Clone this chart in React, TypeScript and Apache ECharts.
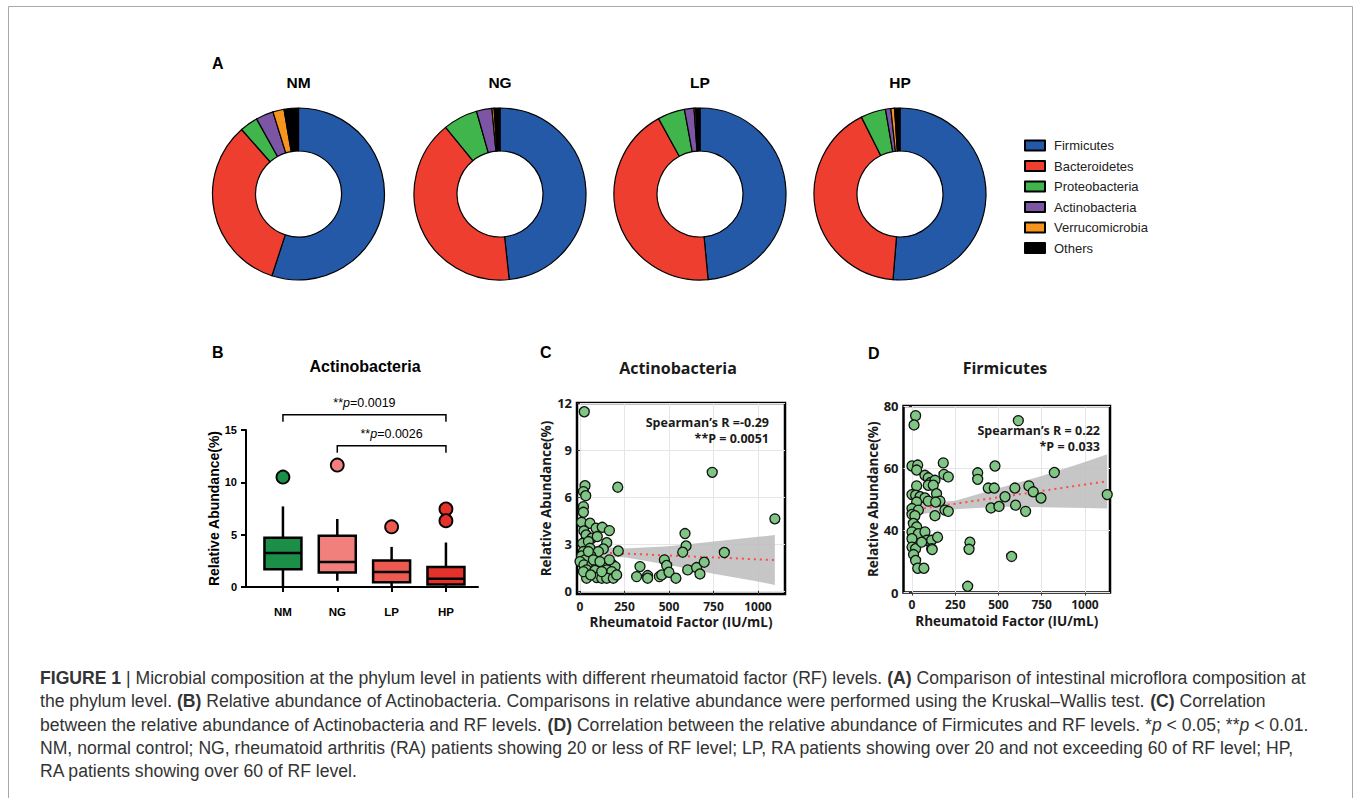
import React, { useEffect, useRef } from "react";
import * as echarts from "echarts";

const ARIAL = "'Liberation Sans', Arial, sans-serif";
const OPEN = "'Open Sans', 'Noto Sans', sans-serif";

// ---------- Panel A : phylum composition ----------
const phyla = ["Firmicutes", "Bacteroidetes", "Proteobacteria", "Actinobacteria", "Verrucomicrobia", "Others"];
const phylaColors = ["#2459a8", "#ee3e2f", "#3fb54b", "#7d55a5", "#f7941e", "#000000"];
const pieGroups = ["NM", "NG", "LP", "HP"];
const pieNM = [55.0, 33.5, 3.4, 3.3, 2.1, 2.7];
const pieNG = [48.3, 40.8, 6.5, 2.9, 0.4, 1.1];
const pieLP = [48.5, 43.5, 5.1, 1.8, 0.3, 0.8];
const pieHP = [51.3, 41.3, 4.7, 1.0, 0.7, 1.0];
const pieValues = [pieNM, pieNG, pieLP, pieHP];

// ---------- Panel B : Actinobacteria box plot ----------
const boxGroups = ["NM", "NG", "LP", "HP"];
const boxMin = [0, 0.6, 0, 0];
const boxQ1 = [1.7, 1.38, 0.45, 0.23];
const boxMedian = [3.26, 2.4, 1.44, 0.8];
const boxQ3 = [4.7, 4.9, 2.53, 1.92];
const boxMax = [7.7, 6.5, 3.83, 4.25];
const boxColors = ["#1b8f48", "#f1807d", "#ef5a50", "#e6312a"];
const outlierGroup = [1, 2, 3, 4, 4];
const outlierValue = [10.5, 11.65, 5.75, 7.45, 6.33];
const bracketFrom = [1, 2];
const bracketTo = [4, 4];
const bracketLevel = [16.45, 13.5];
const bracketP = ["0.0019", "0.0026"];

// ---------- Panel C : Actinobacteria vs RF ----------
const actinoRF = [
  24, 28, 19, 32, 19, 19, 212,
  9, 56, 90, 125, 165, 22, 34, 66, 97, 150, 15, 47, 56, 131, 215, 19, 103, 9, 60, 28, 0, 22, 66, 94, 131, 178, 197,
  37, 84, 150, 178, 37, 94, 122, 150, 187, 47, 75, 112, 165, 19, 60, 206, 122,
  337, 318, 380, 380, 446, 459, 474, 487, 500, 539, 590, 596, 577, 605, 655, 674, 698, 743, 811, 1095,
];
const actinoAbund = [
  11.44, 6.72, 6.34, 6.08, 5.38, 5.02, 6.62,
  4.38, 4.32, 4.0, 4.06, 3.85, 3.83, 3.57, 3.36, 3.47, 3.08, 3.04, 3.15, 2.72, 2.68, 2.55, 2.51, 2.51, 2.23, 2.25, 1.98, 1.87, 1.66, 1.66, 1.55, 1.62, 1.72, 1.55,
  1.34, 1.3, 1.34, 1.23, 0.81, 0.85, 0.81, 0.81, 0.81, 2.51, 1.98, 1.87, 1.98, 1.23, 1.02, 1.02, 1.23,
  1.55, 0.91, 0.98, 0.81, 0.91, 1.02, 1.98, 1.62, 1.19, 0.81, 3.66, 2.87, 2.47, 1.34, 1.49, 1.08, 1.83, 7.57, 2.45, 4.6,
];
const actinoBandX = [0, 250, 500, 750, 1000, 1095];
const actinoBandLow = [2.15, 2.15, 1.65, 1.1, 0.6, 0.38];
const actinoBandHigh = [2.9, 2.7, 2.85, 3.15, 3.45, 3.57];
const actinoFitX = [0, 1095];
const actinoFitY = [2.5, 1.97];
const cXTicks = [0, 250, 500, 750, 1000];
const cYTicks = [0, 3, 6, 9, 12];

// ---------- Panel D : Firmicutes vs RF ----------
const firmiRF = [
  21, 12, 615, 0, 33, 27, 181, 185, 210, 75, 94, 108, 133, 94, 123, 27,
  380, 380, 480, 441, 476, 595, 676, 701, 746, 823, 1129, 538, 599, 457, 503, 657,
  0, 21, 47, 75, 94, 142, 162, 137, 27, 0, 37, 0, 17, 8, 27, 0, 37, 0, 75, 85, 114, 148, 0, 21, 56, 114, 117, 9, 21, 33, 69, 133, 191, 210,
  322, 576, 335, 330,
];
const firmiAbund = [
  76.9, 73.9, 75.3, 60.7, 61.0, 59.4, 61.7, 58.0, 57.2, 57.7, 56.9, 55.4, 56.1, 54.5, 54.5, 54.3,
  58.5, 56.4, 60.7, 53.6, 53.6, 53.6, 54.3, 52.4, 50.4, 58.6, 51.5, 50.8, 48.1, 47.2, 47.7, 46.1,
  51.5, 51.3, 50.8, 50.4, 49.4, 51.8, 49.4, 49.1, 49.1, 47.0, 46.5, 45.1, 44.7, 42.2, 41.1, 39.5, 38.9, 37.3, 39.5, 36.8, 36.8, 37.8, 34.6, 34.1, 36.2, 34.1, 33.8, 32.2, 30.3, 27.8, 27.8, 44.7, 46.5, 46.1,
  22.0, 31.6, 36.2, 33.9,
];
const firmiBandX = [0, 250, 500, 750, 1000, 1129];
const firmiBandLow = [44.8, 46.8, 47.6, 47.4, 47.2, 47.0];
const firmiBandHigh = [48.3, 49.5, 53.5, 57.5, 62, 64.5];
const firmiFitX = [0, 1129];
const firmiFitY = [46.5, 55.8];
const dXTicks = [0, 250, 500, 750, 1000];
const dYTicks = [20, 40, 60, 80];
const dYLabels: Record<number, string> = { 20: "0", 40: "40", 60: "60", 80: "80" };

// ---------- Caption ----------
const captionLines = [
  "{b|FIGURE 1} | Microbial composition at the phylum level in patients with different rheumatoid factor (RF) levels. {b|(A)} Comparison of intestinal microflora composition at",
  "the phylum level. {b|(B)} Relative abundance of Actinobacteria. Comparisons in relative abundance were performed using the Kruskal\u2013Wallis test. {b|(C)} Correlation",
  "between the relative abundance of Actinobacteria and RF levels. {b|(D)} Correlation between the relative abundance of Firmicutes and RF levels. *{i|p} < 0.05; **{i|p} < 0.01.",
  "NM, normal control; NG, rheumatoid arthritis (RA) patients showing 20 or less of RF level; LP, RA patients showing over 20 and not exceeding 60 of RF level; HP,",
  "RA patients showing over 60 of RF level.",
];

const pieCenters = [298.5, 500, 700, 900];
const CAP = 17.6;

function bandRenderer(xs: number[], lo: number[], hi: number[]) {
  return (params: any, api: any) => {
    if (params.dataIndex !== 0) return null;
    const pts: number[][] = [];
    for (let i = 0; i < xs.length; i++) pts.push(api.coord([xs[i], hi[i]]));
    for (let i = xs.length - 1; i >= 0; i--) pts.push(api.coord([xs[i], lo[i]]));
    return { type: "polygon", shape: { points: pts }, style: { fill: "#bcbcbc", opacity: 0.85 } };
  };
}

export default function App() {
  const ref = useRef<HTMLDivElement>(null);
  useEffect(() => {
    if (!ref.current) return;
    const chart = echarts.init(ref.current, undefined, { renderer: "svg" });

    const pieSeries = pieGroups.map((g, k) => ({
      type: "pie",
      name: g,
      radius: [43, 86],
      center: [pieCenters[k], 194],
      startAngle: 90,
      clockwise: true,
      silent: true,
      avoidLabelOverlap: false,
      label: { show: false },
      labelLine: { show: false },
      emphasis: { disabled: true },
      itemStyle: { borderColor: "#000", borderWidth: 1.2 },
      data: phyla.map((n, i) => ({ name: n, value: pieValues[k][i], itemStyle: { color: phylaColors[i] } })),
    }));

    const boxData = boxGroups.map((_, i) => [i + 1, boxMin[i], boxQ1[i], boxMedian[i], boxQ3[i], boxMax[i]]);
    const outlierData = outlierGroup.map((g, i) => ({
      value: [g, outlierValue[i]],
      itemStyle: { color: boxColors[g - 1] },
    }));
    const bracketData = bracketFrom.map((f, i) => [f, bracketTo[i], bracketLevel[i], i]);

    const cPoints = actinoRF.map((x, i) => [x, actinoAbund[i]]);
    const dPoints = firmiRF.map((x, i) => [x, firmiAbund[i]]);

    const scatterGridBase = {
      show: true,
      borderColor: "#000",
      borderWidth: 2.5,
      backgroundColor: "#fff",
      containLabel: false,
      outerBoundsMode: "none",
    };

    const valueAxisBase = (extra: any) => ({
      type: "value",
      axisLine: { show: false },
      splitLine: { show: true, lineStyle: { color: "#e6e6e6", width: 1 } },
      nameTextStyle: { fontFamily: OPEN, fontWeight: "bold", fontSize: 13.5, color: "#1a1a1a" },
      ...extra,
    });

    const option: any = {
      animation: false,
      legend: {
        data: phyla,
        orient: "vertical",
        left: 1019,
        top: 134,
        itemWidth: 20,
        itemHeight: 10,
        itemGap: 7.5,
        icon: "rect",
        selectedMode: false,
        textStyle: { fontFamily: ARIAL, fontSize: 13, color: "#222", padding: [0, 0, 0, 4] },
      },
      grid: [
        { left: 246, top: 430, width: 232, height: 157, containLabel: false, outerBoundsMode: "none" },
        { ...scatterGridBase, left: 577, top: 403, width: 208, height: 191 },
        { ...scatterGridBase, left: 903.5, top: 406, width: 206.5, height: 186.5 },
      ],
      xAxis: [
        {
          type: "value",
          gridIndex: 0,
          min: 0.32,
          max: 4.59,
          axisLine: { show: true, onZero: false, lineStyle: { color: "#000", width: 2 } },
          axisTick: { show: true, customValues: [1, 2, 3, 4], length: 5, lineStyle: { color: "#000", width: 2 } },
          axisLabel: {
            customValues: [1, 2, 3, 4],
            formatter: (v: number) => boxGroups[Math.round(v) - 1] || "",
            fontFamily: ARIAL,
            fontWeight: "bold",
            fontSize: 11.5,
            color: "#000",
            margin: 19,
          },
          splitLine: { show: false },
        },
        valueAxisBase({
          gridIndex: 1,
          min: -17,
          max: 1152,
          axisTick: { show: true, customValues: cXTicks, length: 3, lineStyle: { color: "#333" } },
          axisLabel: {
            customValues: cXTicks,
            formatter: (v: number) => String(Math.round(v)),
            fontFamily: OPEN,
            fontWeight: "bold",
            fontSize: 12,
            color: "#1a1a1a",
            margin: 6,
          },
          name: "Rheumatoid Factor (IU/mL)",
          nameLocation: "middle",
          nameGap: 21,
        }),
        valueAxisBase({
          gridIndex: 2,
          min: -49,
          max: 1145,
          axisTick: { show: true, customValues: dXTicks, length: 3, lineStyle: { color: "#333" } },
          axisLabel: {
            customValues: dXTicks,
            formatter: (v: number) => String(Math.round(v)),
            fontFamily: OPEN,
            fontWeight: "bold",
            fontSize: 12,
            color: "#1a1a1a",
            margin: 6,
          },
          name: "Rheumatoid Factor (IU/mL)",
          nameLocation: "middle",
          nameGap: 21,
        }),
      ],
      yAxis: [
        {
          type: "value",
          gridIndex: 0,
          min: 0,
          max: 15,
          interval: 5,
          axisLine: { show: true, onZero: false, lineStyle: { color: "#000", width: 2 } },
          axisTick: { show: true, length: 5, lineStyle: { color: "#000", width: 2 } },
          axisLabel: { fontFamily: ARIAL, fontWeight: "bold", fontSize: 11, color: "#000", margin: 9 },
          splitLine: { show: false },
          name: "Relative Abundance(%)",
          nameLocation: "middle",
          nameGap: 24,
          nameTextStyle: { fontFamily: ARIAL, fontWeight: "bold", fontSize: 14, color: "#000" },
        },
        valueAxisBase({
          gridIndex: 1,
          min: -0.2,
          max: 12,
          axisTick: { show: true, customValues: cYTicks, length: 3, lineStyle: { color: "#333" } },
          axisLabel: {
            customValues: cYTicks,
            formatter: (v: number) => String(Math.round(v)),
            fontFamily: OPEN,
            fontWeight: "bold",
            fontSize: 13,
            color: "#1a1a1a",
            margin: 5,
          },
          name: "Relative Abundance(%)",
          nameLocation: "middle",
          nameGap: 22,
        }),
        valueAxisBase({
          gridIndex: 2,
          min: 20,
          max: 80,
          axisTick: { show: true, customValues: dYTicks, length: 3, lineStyle: { color: "#333" } },
          axisLabel: {
            customValues: dYTicks,
            formatter: (v: number) => dYLabels[Math.round(v)] ?? String(v),
            fontFamily: OPEN,
            fontWeight: "bold",
            fontSize: 13,
            color: "#1a1a1a",
            margin: 5,
          },
          name: "Relative Abundance(%)",
          nameLocation: "middle",
          nameGap: 23,
        }),
      ],
      series: [
        ...pieSeries,
        {
          type: "custom",
          xAxisIndex: 0,
          yAxisIndex: 0,
          silent: true,
          clip: false,
          data: boxData,
          renderItem: (params: any, api: any) => {
            const x = api.value(0);
            const lo = api.coord([x, api.value(1)]);
            const q1 = api.coord([x, api.value(2)]);
            const med = api.coord([x, api.value(3)]);
            const q3 = api.coord([x, api.value(4)]);
            const hi = api.coord([x, api.value(5)]);
            const hw = 18.5;
            const ls = { stroke: "#000", lineWidth: 2.5 };
            return {
              type: "group",
              children: [
                { type: "line", shape: { x1: hi[0], y1: hi[1], x2: q3[0], y2: q3[1] }, style: ls },
                { type: "line", shape: { x1: q1[0], y1: q1[1], x2: lo[0], y2: lo[1] }, style: ls },
                {
                  type: "rect",
                  shape: { x: q3[0] - hw, y: q3[1], width: hw * 2, height: q1[1] - q3[1] },
                  style: { fill: boxColors[params.dataIndex], stroke: "#000", lineWidth: 2.5 },
                },
                { type: "line", shape: { x1: med[0] - hw, y1: med[1], x2: med[0] + hw, y2: med[1] }, style: ls },
              ],
            };
          },
        },
        {
          type: "scatter",
          xAxisIndex: 0,
          yAxisIndex: 0,
          silent: true,
          symbolSize: 13,
          itemStyle: { borderColor: "#000", borderWidth: 1.8, opacity: 1 },
          data: outlierData,
        },
        {
          type: "custom",
          xAxisIndex: 0,
          yAxisIndex: 0,
          silent: true,
          clip: false,
          data: bracketData,
          renderItem: (params: any, api: any) => {
            const p1 = api.coord([api.value(0), api.value(2)]);
            const p2 = api.coord([api.value(1), api.value(2)]);
            const idx = api.value(3);
            return {
              type: "group",
              children: [
                {
                  type: "polyline",
                  shape: { points: [[p1[0], p1[1] + 7], [p1[0], p1[1]], [p2[0], p1[1]], [p2[0], p1[1] + 7]] },
                  style: { stroke: "#000", lineWidth: 1.5, fill: "none" },
                },
                {
                  type: "text",
                  style: {
                    x: (p1[0] + p2[0]) / 2,
                    y: p1[1] - 12,
                    text: "**{i|p}=" + bracketP[idx],
                    textAlign: "center",
                    textVerticalAlign: "middle",
                    fontFamily: ARIAL,
                    fontSize: 12.5,
                    fill: "#000",
                    rich: { i: { fontStyle: "italic", fontFamily: ARIAL, fontSize: 12.5, fill: "#000" } },
                  },
                },
              ],
            };
          },
        },
        // Panel C
        {
          type: "custom",
          xAxisIndex: 1,
          yAxisIndex: 1,
          silent: true,
          z: 1,
          data: actinoBandX.map((x, i) => [x, actinoBandLow[i], actinoBandHigh[i]]),
          renderItem: bandRenderer(actinoBandX, actinoBandLow, actinoBandHigh),
        },
        {
          type: "line",
          xAxisIndex: 1,
          yAxisIndex: 1,
          silent: true,
          z: 2,
          symbol: "none",
          data: actinoFitX.map((x, i) => [x, actinoFitY[i]]),
          lineStyle: { color: "#ff4a4a", width: 2, type: [2, 4] },
        },
        {
          type: "scatter",
          xAxisIndex: 1,
          yAxisIndex: 1,
          silent: true,
          z: 3,
          symbolSize: 10,
          itemStyle: { color: "#7fc684", borderColor: "#111", borderWidth: 1.3, opacity: 1 },
          data: cPoints,
        },
        // Panel D
        {
          type: "custom",
          xAxisIndex: 2,
          yAxisIndex: 2,
          silent: true,
          z: 1,
          data: firmiBandX.map((x, i) => [x, firmiBandLow[i], firmiBandHigh[i]]),
          renderItem: bandRenderer(firmiBandX, firmiBandLow, firmiBandHigh),
        },
        {
          type: "line",
          xAxisIndex: 2,
          yAxisIndex: 2,
          silent: true,
          z: 2,
          symbol: "none",
          data: firmiFitX.map((x, i) => [x, firmiFitY[i]]),
          lineStyle: { color: "#ff4a4a", width: 2, type: [2, 4] },
        },
        {
          type: "scatter",
          xAxisIndex: 2,
          yAxisIndex: 2,
          silent: true,
          z: 3,
          symbolSize: 10,
          itemStyle: { color: "#7fc684", borderColor: "#111", borderWidth: 1.3, opacity: 1 },
          data: dPoints,
        },
      ],
      graphic: [
        {
          type: "rect",
          silent: true,
          shape: { x: 8.5, y: 6.5, width: 1344, height: 1000 },
          style: { fill: "none", stroke: "#a8a8a8", lineWidth: 1 },
        },
        { type: "text", x: 212, y: 63, style: { text: "A", font: `bold 16px ${ARIAL}`, fill: "#000", textVerticalAlign: "middle" } },
        ...pieGroups.map((g, k) => ({
          type: "text",
          x: pieCenters[k],
          y: 82,
          style: { text: g, font: `bold 15.5px ${ARIAL}`, fill: "#000", textAlign: "center", textVerticalAlign: "middle" },
        })),
        { type: "text", x: 212, y: 352, style: { text: "B", font: `bold 16px ${ARIAL}`, fill: "#000", textVerticalAlign: "middle" } },
        {
          type: "text",
          x: 365,
          y: 366,
          style: { text: "Actinobacteria", font: `bold 16px ${ARIAL}`, fill: "#000", textAlign: "center", textVerticalAlign: "middle" },
        },
        { type: "text", x: 540, y: 352, style: { text: "C", font: `bold 16px ${ARIAL}`, fill: "#000", textVerticalAlign: "middle" } },
        {
          type: "text",
          x: 678,
          y: 368,
          style: { text: "Actinobacteria", font: `bold 16px ${OPEN}`, fill: "#1a1a1a", textAlign: "center", textVerticalAlign: "middle" },
        },
        {
          type: "text",
          x: 769,
          y: 422,
          z: 10,
          style: { text: "Spearman\u2019s R =-0.29", font: `bold 12.5px ${OPEN}`, fill: "#1a1a1a", textAlign: "right", textVerticalAlign: "middle" },
        },
        {
          type: "text",
          x: 769,
          y: 438,
          z: 10,
          style: { text: "**P = 0.0051", font: `bold 12.5px ${OPEN}`, fill: "#1a1a1a", textAlign: "right", textVerticalAlign: "middle" },
        },
        { type: "text", x: 868, y: 353, style: { text: "D", font: `bold 16px ${ARIAL}`, fill: "#000", textVerticalAlign: "middle" } },
        {
          type: "text",
          x: 1005,
          y: 368,
          style: { text: "Firmicutes", font: `bold 16px ${OPEN}`, fill: "#1a1a1a", textAlign: "center", textVerticalAlign: "middle" },
        },
        {
          type: "text",
          x: 1100,
          y: 430,
          z: 10,
          style: { text: "Spearman\u2019s R = 0.22", font: `bold 12.5px ${OPEN}`, fill: "#1a1a1a", textAlign: "right", textVerticalAlign: "middle" },
        },
        {
          type: "text",
          x: 1100,
          y: 446,
          z: 10,
          style: { text: "*P = 0.033", font: `bold 12.5px ${OPEN}`, fill: "#1a1a1a", textAlign: "right", textVerticalAlign: "middle" },
        },
        ...captionLines.map((line, i) => ({
          type: "text",
          x: 40,
          y: [678, 701, 725, 748, 771][i],
          style: {
            text: line,
            fontFamily: ARIAL,
            fontSize: CAP,
            fill: "#333",
            textVerticalAlign: "middle",
            rich: {
              b: { fontWeight: "bold", fontFamily: ARIAL, fontSize: CAP, fill: "#333" },
              i: { fontStyle: "italic", fontFamily: ARIAL, fontSize: CAP, fill: "#333" },
            },
          },
        })),
      ],
    };

    chart.setOption(option);
    return () => chart.dispose();
  }, []);

  return <div ref={ref} style={{ position: "absolute", left: 0, top: 0, width: 1354, height: 798, background: "#fff" }} />;
}
